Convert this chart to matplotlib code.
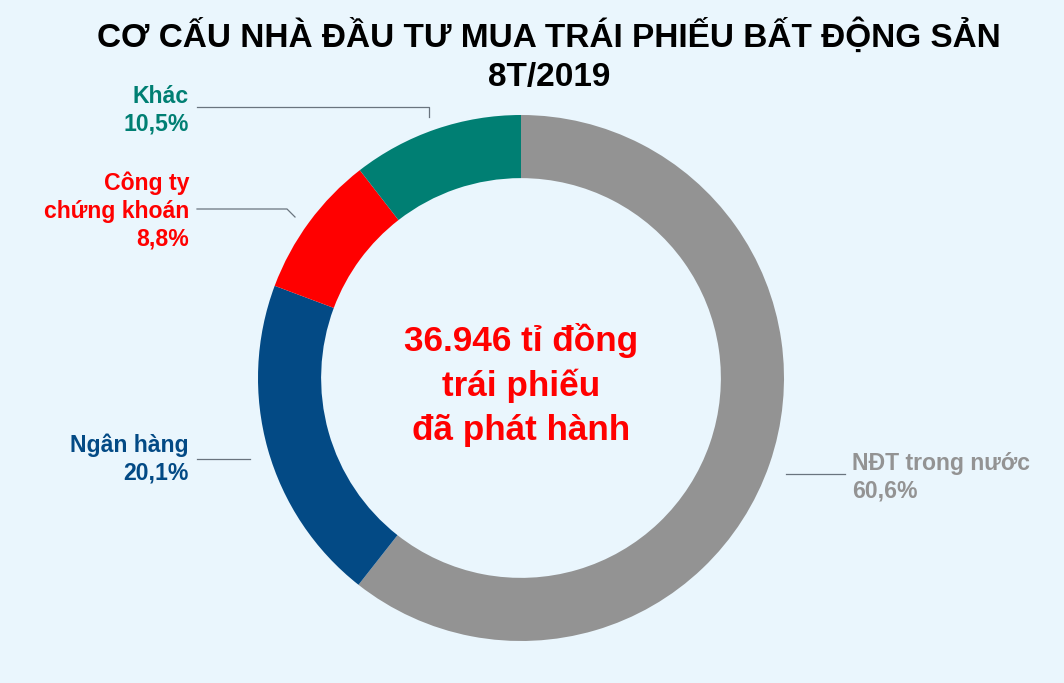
import matplotlib.pyplot as plt

labels = ["NĐT trong nước", "Ngân hàng", "Công ty\nchứng khoán", "Khác"]
shares = [60.6, 20.1, 8.8, 10.5]
colors = ["#939393", "#034A85", "#FF0000", "#007F73"]
title_lines = ["CƠ CẤU NHÀ ĐẦU TƯ MUA TRÁI PHIẾU BẤT ĐỘNG SẢN", "8T/2019"]
center_text = "36.946 tỉ đồng\ntrái phiếu\nđã phát hành"

W, H = 1064, 683
bg = "#EAF6FD"
plt.rcParams['font.family'] = ['Liberation Sans', 'DejaVu Sans']

fig = plt.figure(figsize=(W / 100, H / 100), dpi=100, facecolor=bg)
ax = fig.add_axes([0, 0, 1, 1])
ax.set_facecolor(bg)

def py(y):
    # pixel row (from top) to data y
    return H - y

cx, cy, R = 521, py(378), 263
ax.pie(shares, colors=colors, startangle=90, counterclock=False,
       center=(cx, cy), radius=R, frame=True,
       wedgeprops=dict(width=R * 0.24, linewidth=0))
ax.set_xlim(0, W)
ax.set_ylim(0, H)
ax.set_aspect('equal')
ax.axis('off')

# title, two lines drawn separately
ax.text(W / 2 + 17, py(47), title_lines[0], ha='center', va='baseline',
        fontsize=24, fontweight='bold', color='black')
ax.text(W / 2 + 17, py(86), title_lines[1], ha='center', va='baseline',
        fontsize=24, fontweight='bold', color='black')
ax.text(cx, py(385), center_text, ha='center', va='center', fontsize=25.3,
        fontweight='bold', color='#FF0000', linespacing=1.42)

line_c = "#6A747E"
lab_kw = dict(fontsize=16.6, fontweight='bold', linespacing=1.26)

def pct(v):
    return f"{v:.1f}%".replace('.', ',')

# Khác
ax.text(189, py(110), f"{labels[3]}\n{pct(shares[3])}",
        ha='right', va='center', color=colors[3], **lab_kw)
ax.plot([197, 429, 429], [py(107), py(107), py(117)], color=line_c, lw=0.9)

# Công ty chứng khoán
ax.text(189, py(211), f"{labels[2]}\n{pct(shares[2])}",
        ha='right', va='center', color=colors[2], **lab_kw)
ax.plot([197, 287, 295], [py(209), py(209), py(217)], color=line_c, lw=0.9)

# Ngân hàng
ax.text(189, py(459), f"{labels[1]}\n{pct(shares[1])}",
        ha='right', va='center', color=colors[1], **lab_kw)
ax.plot([197, 250], [py(459), py(459)], color=line_c, lw=0.9)

# NĐT trong nước
ax.text(852, py(477), f"{labels[0]}\n{pct(shares[0])}",
        ha='left', va='center', color=colors[0], **lab_kw)
ax.plot([786, 845], [py(474), py(474)], color=line_c, lw=0.9)

fig.savefig("out.png", dpi=100, facecolor=bg)
